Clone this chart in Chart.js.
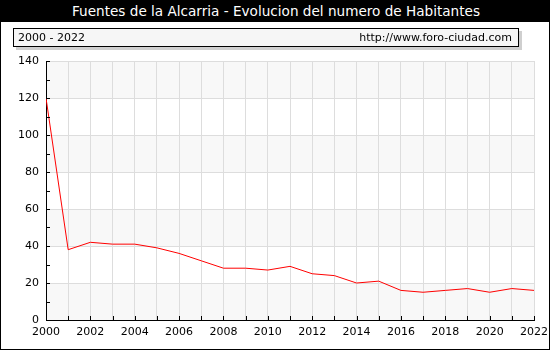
<!DOCTYPE html>
<html><head><meta charset="utf-8">
<script src="https://cdn.jsdelivr.net/npm/chart.js@4"></script>
<style>
html,body{margin:0;padding:0;background:#fff;}
#wrap{position:relative;width:550px;height:350px;box-sizing:border-box;border:1px solid #000;overflow:hidden;font-family:"DejaVu Sans",Verdana,sans-serif;}
#title{position:absolute;left:0;top:0;width:550px;height:21px;background:#000;color:#fff;font-size:13.6px;line-height:21px;text-align:center;}
#box{position:absolute;left:12px;top:27px;width:504px;height:17px;background:#f6f6f6;border:1px solid #000;box-shadow:3px 3px 0 #cfcfcf;font-size:11px;line-height:17px;}
#box .l{position:absolute;left:4px;top:0;}
#box .r{position:absolute;right:6px;top:0;}
canvas{position:absolute;left:-1px;top:-1px;}
</style></head>
<body><div id="wrap">
<canvas id="c" width="550" height="350"></canvas>
<div id="title">Fuentes de la Alcarria - Evolucion del numero de Habitantes</div>
<div id="box"><span class="l">2000 - 2022</span><span class="r">http://www.foro-ciudad.com</span></div>
</div>
<script>
const years = [2000,2001,2002,2003,2004,2005,2006,2007,2008,2009,2010,2011,2012,2013,2014,2015,2016,2017,2018,2019,2020,2021,2022];
const habitantes = [120,38,42,41,41,39,36,32,28,28,27,29,25,24,20,21,16,15,16,17,15,17,16];
const yTicks = [0,20,40,60,80,100,120,140];

const bands = {
  id:'bands',
  beforeDraw(chart){
    const {ctx, chartArea:a, scales:{y}} = chart;
    ctx.save();
    ctx.fillStyle = '#f8f8f8';
    for (let v = 0; v < 140; v += 40){
      const t = y.getPixelForValue(v+20), b = y.getPixelForValue(v);
      ctx.fillRect(a.left, t, a.right-a.left, b-t);
    }
    ctx.restore();
  },
  afterDatasetsDraw(chart){
    const {ctx, chartArea:a, scales:{x,y}} = chart;
    ctx.save();
    ctx.strokeStyle = '#000'; ctx.lineWidth = 1;
    ctx.beginPath();
    for (let v = 0; v <= 140; v += 10){
      const py = Math.round(y.getPixelForValue(v)) + 0.5;
      ctx.moveTo(a.left, py); ctx.lineTo(a.left+4, py);
    }
    for (const yr of years){
      const px = Math.round(x.getPixelForValue(yr)) + 0.5;
      ctx.moveTo(px, a.bottom); ctx.lineTo(px, a.bottom-4);
    }
    ctx.stroke();
    ctx.restore();
  }
};

new Chart(document.getElementById('c'), {
  type:'line',
  data:{datasets:[{data: years.map((yr,i)=>({x:yr,y:habitantes[i]})), borderColor:'#ff0000', borderWidth:1, pointRadius:0, tension:0, fill:false}]},
  options:{
    responsive:false, animation:false,
    layout:{padding:{top:61, right:16, left:1, bottom:0}},
    plugins:{legend:{display:false}, tooltip:{enabled:false}},
    scales:{
      x:{type:'linear', min:2000, max:2022,
        afterBuildTicks(s){ s.ticks = years.map(v=>({value:v})); },
        afterFit(s){ s.height = 30; s.paddingLeft = 0; s.paddingRight = 0; },
        grid:{color:'#dddddd', drawTicks:false},
        border:{color:'#000'},
        ticks:{padding:6, color:'#000', autoSkip:false, maxRotation:0, font:{family:'DejaVu Sans', size:11},
          callback:v=> v%2===0 ? String(v) : ''}
      },
      y:{min:0, max:140,
        afterBuildTicks(s){ s.ticks = yTicks.map(v=>({value:v})); },
        afterFit(s){ s.width = 45; s.paddingTop = 0; s.paddingBottom = 0; },
        grid:{color:'#dddddd', drawTicks:false},
        border:{color:'#000'},
        ticks:{padding:7, color:'#000', font:{family:'DejaVu Sans', size:11}}
      }
    }
  },
  plugins:[bands]
});
</script>
</body></html>
